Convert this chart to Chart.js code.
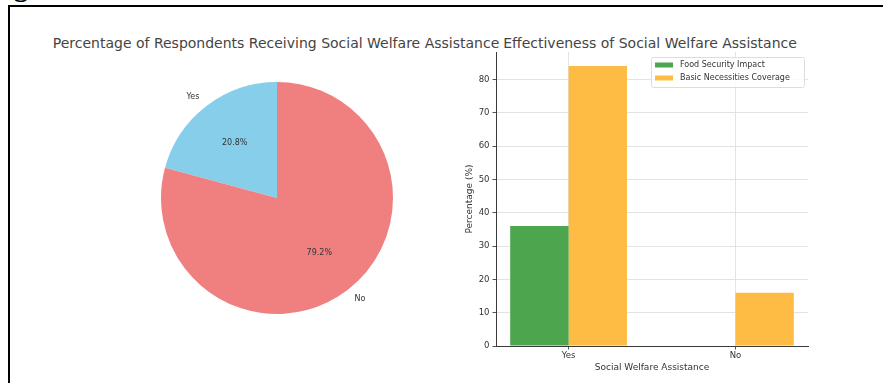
<!DOCTYPE html>
<html lang="en">
<head>
  <meta charset="UTF-8">
  <title>Social Welfare Assistance</title>
  <script src="https://cdn.jsdelivr.net/npm/chart.js"></script>
  <style>
    body {
      margin: 0;
      width: 883px;
      height: 383px;
      overflow: hidden;
      background: #ffffff;
      font-family: 'DejaVu Sans', sans-serif;
      position: relative;
    }

    .frame {
      position: absolute;
      left: 8px;
      top: 5px;
      width: 900px;
      height: 400px;
      border-left: 2px solid #000;
      border-top: 2px solid #000;
    }

    .caption {
      position: absolute;
      left: -11px;
      top: -27px;
      font: bold 28px 'Liberation Serif', serif;
      line-height: 1;
      color: #000;
    }

    .title {
      position: absolute;
      top: 35px;
      font-size: 14px;
      color: #444;
      white-space: nowrap;
      transform: translateX(-50%);
    }

    #pieWrap {
      position: absolute;
      left: 127px;
      top: 48px;
      width: 300px;
      height: 300px;
    }

    #barWrap {
      position: absolute;
      left: 440px;
      top: 40px;
      width: 400px;
      height: 343px;
    }
  </style>
</head>
<body>

  <div class="caption">Fig</div>
  <div class="frame"></div>

  <div class="title" style="left: 276px;">Percentage of Respondents Receiving Social Welfare Assistance</div>
  <div class="title" style="left: 650px;">Effectiveness of Social Welfare Assistance</div>

  <div id="pieWrap"><canvas id="pieChart"></canvas></div>
  <div id="barWrap"><canvas id="barChart"></canvas></div>

  <script>
    // pie
    const pieLabels = ['Yes', 'No'];
    const pieValues = [20.8, 79.2];

    // bars
    const categories = ['Yes', 'No'];
    const foodSecurity = [36, 0];
    const basicNeeds = [84, 16];
    const yTicks = [0, 10, 20, 30, 40, 50, 60, 70, 80];

    Chart.defaults.font.family = "'DejaVu Sans', sans-serif";
    Chart.defaults.animation = false;

    // matplotlib-style labels: name outside at 1.1r, percent inside at 0.6r
    const pieText = {
      id: 'pieText',
      afterDatasetsDraw(chart) {
        const ctx = chart.ctx;
        const meta = chart.getDatasetMeta(0);
        ctx.save();
        ctx.font = "8px 'DejaVu Sans', sans-serif";
        ctx.fillStyle = '#333';
        ctx.textBaseline = 'middle';
        meta.data.forEach((arc, i) => {
          const mid = (arc.startAngle + arc.endAngle) / 2;
          const r = arc.outerRadius;
          const cx = Math.cos(mid), cy = Math.sin(mid);
          ctx.textAlign = cx < 0 ? 'right' : 'left';
          ctx.fillText(pieLabels[i], arc.x + cx * r * 1.1, arc.y + cy * r * 1.1);
          ctx.textAlign = 'center';
          ctx.fillText(pieValues[i].toFixed(1) + '%', arc.x + cx * r * 0.6, arc.y + cy * r * 0.6);
        });
        ctx.restore();
      }
    };

    new Chart(document.getElementById('pieChart'), {
      type: 'pie',
      data: {
        labels: pieLabels,
        datasets: [{
          data: pieValues,
          backgroundColor: ['#87ceeb', '#f08080'],
          borderWidth: 0
        }]
      },
      options: {
        responsive: true,
        maintainAspectRatio: false,
        // first slice ends at 12 o'clock, like startangle=90 counterclockwise
        rotation: -pieValues[0] / 100 * 360,
        layout: { padding: 34 },
        plugins: { legend: { display: false }, tooltip: { enabled: false } }
      },
      plugins: [pieText]
    });

    // legend box inside the top right corner of the plot
    const boxLegend = {
      id: 'boxLegend',
      afterDraw(chart) {
        const ctx = chart.ctx;
        const area = chart.chartArea;
        const w = 153, h = 30;
        const x = area.right - w - 4, y = area.top + 5;
        ctx.save();
        ctx.fillStyle = 'rgba(255,255,255,0.8)';
        ctx.strokeStyle = '#dddddd';
        ctx.lineWidth = 1;
        ctx.beginPath();
        ctx.roundRect(x + 0.5, y + 0.5, w, h, 2);
        ctx.fill();
        ctx.stroke();
        ctx.font = "8px 'DejaVu Sans', sans-serif";
        ctx.textBaseline = 'middle';
        ctx.textAlign = 'left';
        chart.data.datasets.forEach((ds, i) => {
          const ry = y + 8 + i * 13;
          ctx.fillStyle = ds.backgroundColor;
          ctx.fillRect(x + 4, ry - 2.5, 18, 5);
          ctx.fillStyle = '#333';
          ctx.fillText(ds.label, x + 29, ry);
        });
        ctx.restore();
      }
    };

    new Chart(document.getElementById('barChart'), {
      type: 'bar',
      data: {
        datasets: [{
          label: 'Food Security Impact',
          data: categories.map((c, i) => ({ x: i, y: foodSecurity[i] })),
          backgroundColor: '#4da64d'
        }, {
          label: 'Basic Necessities Coverage',
          data: categories.map((c, i) => ({ x: i, y: basicNeeds[i] })),
          backgroundColor: '#ffbc45'
        }]
      },
      options: {
        responsive: true,
        maintainAspectRatio: false,
        layout: { padding: { top: 12, right: 32, left: 0, bottom: 0 } },
        categoryPercentage: 0.7,
        barPercentage: 1.0,
        plugins: { legend: { display: false }, tooltip: { enabled: false } },
        scales: {
          x: {
            type: 'linear',
            min: -0.435,
            max: 1.435,
            offset: false,
            afterFit: (s) => { s.height = 37; },
            afterBuildTicks: (s) => { s.ticks = categories.map((c, i) => ({ value: i })); },
            ticks: {
              color: '#333',
              font: { size: 8.5 },
              padding: 1,
              callback: (v) => categories[v]
            },
            grid: { offset: false, color: '#e3e3e3', tickLength: 3.5, tickColor: '#555' },
            border: { color: '#3a3a3a', width: 1 },
            title: {
              display: true,
              text: 'Social Welfare Assistance',
              color: '#333',
              font: { size: 9 },
              padding: { bottom: 10 }
            }
          },
          y: {
            min: 0,
            max: 88.2,
            afterFit: (s) => { s.width = 56; },
            afterBuildTicks: (s) => { s.ticks = yTicks.map(v => ({ value: v })); },
            ticks: { color: '#333', font: { size: 8.5 }, padding: 3 },
            grid: { color: '#e3e3e3', tickLength: 3.5, tickColor: '#555' },
            border: { color: '#3a3a3a', width: 1 },
            title: {
              display: true,
              text: 'Percentage (%)',
              color: '#333',
              font: { size: 9 },
              padding: { top: 24 }
            }
          }
        }
      },
      plugins: [boxLegend]
    });
  </script>

</body>
</html>
